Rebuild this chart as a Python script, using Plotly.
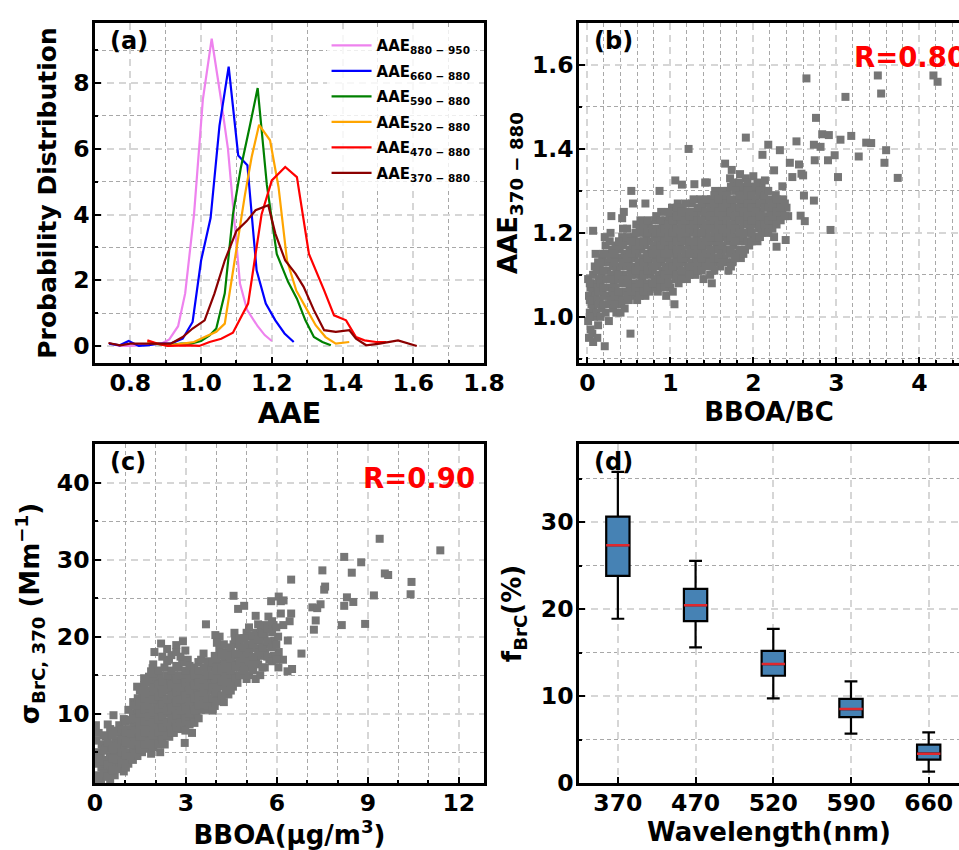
import plotly.graph_objects as go

# ---------------- Panel (a): AAE probability distributions ----------------
aae_labels = ["AAE<sub>880 − 950</sub>", "AAE<sub>660 − 880</sub>", "AAE<sub>590 − 880</sub>",
              "AAE<sub>520 − 880</sub>", "AAE<sub>470 − 880</sub>", "AAE<sub>370 − 880</sub>"]
aae_colors = ["violet", "blue", "green", "orange", "red", "darkred"]

pd880_x = [0.74, 0.77, 0.80, 0.83, 0.86, 0.89, 0.91, 0.935, 0.955, 0.98, 1.005, 1.03, 1.055, 1.076, 1.11, 1.13, 1.16, 1.18, 1.20]
pd880_y = [0.08, 0.0, 0.0, 0.02, 0.05, 0.08, 0.2, 0.6, 1.6, 4.0, 7.5, 9.35, 7.6, 6.0, 1.9, 1.1, 0.6, 0.33, 0.15]

pd660_x = [0.74, 0.77, 0.795, 0.824, 0.852, 0.88, 0.914, 0.948, 0.976, 1.0, 1.027, 1.052, 1.078, 1.105, 1.131, 1.157, 1.183, 1.21, 1.236, 1.262]
pd660_y = [0.07, 0.02, 0.15, 0.0, 0.02, 0.07, 0.07, 0.22, 0.73, 2.6, 3.9, 6.7, 8.5, 5.8, 5.5, 2.3, 1.29, 0.78, 0.38, 0.12]

pd590_x = [0.85, 0.876, 0.905, 0.943, 0.971, 1.0, 1.024, 1.043, 1.067, 1.09, 1.112, 1.138, 1.16, 1.186, 1.214, 1.246, 1.271, 1.295, 1.319, 1.343, 1.367]
pd590_y = [0.1, 0.07, 0.02, 0.07, 0.07, 0.15, 0.32, 0.53, 1.6, 4.0, 5.4, 6.7, 7.85, 4.9, 2.8, 1.95, 1.44, 0.78, 0.27, 0.12, 0.02]

pd520_x = [0.848, 0.876, 0.91, 0.948, 0.98, 1.01, 1.043, 1.067, 1.095, 1.124, 1.143, 1.164, 1.195, 1.219, 1.243, 1.269, 1.295, 1.324, 1.352, 1.381, 1.419]
pd520_y = [0.12, 0.07, 0.02, 0.07, 0.12, 0.27, 0.43, 0.68, 2.6, 4.6, 5.75, 6.73, 6.26, 4.84, 2.6, 1.69, 1.19, 0.63, 0.27, 0.07, 0.12]

pd470_x = [0.848, 0.876, 0.905, 0.943, 0.97, 0.995, 1.024, 1.057, 1.09, 1.133, 1.15, 1.171, 1.2, 1.238, 1.271, 1.305, 1.348, 1.376, 1.41, 1.438, 1.462, 1.495, 1.524]
pd470_y = [0.17, 0.07, 0.0, 0.02, 0.02, 0.0, 0.12, 0.22, 0.4, 1.29, 2.5, 4.0, 5.04, 5.45, 5.14, 2.8, 1.69, 0.93, 0.78, 0.27, 0.17, 0.12, 0.12]

pd370_x = [0.738, 0.771, 0.8, 0.838, 0.876, 0.914, 0.948, 0.976, 1.01, 1.038, 1.067, 1.1, 1.129, 1.154, 1.19, 1.21, 1.238, 1.267, 1.29, 1.319, 1.348, 1.381, 1.419, 1.438, 1.467, 1.505, 1.557, 1.61]
pd370_y = [0.09, 0.02, 0.07, 0.07, 0.07, 0.07, 0.27, 0.53, 0.78, 1.6, 2.6, 3.5, 3.8, 4.13, 4.28, 3.42, 2.6, 2.2, 1.8, 1.09, 0.48, 0.43, 0.48, 0.22, 0.02, 0.07, 0.17, 0.0]

# ---------------- Panel (b): AAE370-880 vs BBOA/BC ----------------
bb_ratio = [
    0.02, 0.04, 0.01, 0.03, 0.05, 0.02, 0.04, 0.01,
    0.07, 0.06, 0.08, 0.07, 0.09, 0.06, 0.08, 0.07, 0.09,
    0.12, 0.11, 0.13, 0.10, 0.12, 0.14, 0.11, 0.10, 0.07,
    0.16, 0.17, 0.15, 0.18, 0.16, 0.17, 0.15, 0.18,
    0.21, 0.21, 0.22, 0.20, 0.23, 0.21, 0.22,
    0.26, 0.25, 0.27, 0.24, 0.26, 0.25, 0.26, 0.27,
    0.31, 0.30, 0.32, 0.29, 0.31, 0.30, 0.29,
    0.35, 0.36, 0.34, 0.37, 0.35, 0.36, 0.34,
    0.40, 0.41, 0.39, 0.42, 0.40, 0.41, 0.39, 0.42, 0.42,
    0.45, 0.46, 0.44, 0.47, 0.45, 0.46, 0.44,
    0.50, 0.51, 0.49, 0.52, 0.50, 0.51, 0.48, 0.52, 0.53,
    0.55, 0.56, 0.54, 0.57, 0.55, 0.56, 0.55,
    0.60, 0.61, 0.59, 0.62, 0.60, 0.61, 0.59,
    0.65, 0.66, 0.64, 0.67, 0.65, 0.66, 0.64,
    0.70, 0.71, 0.69, 0.72, 0.70, 0.71, 0.69, 0.70,
    0.75, 0.76, 0.74, 0.77, 0.75, 0.76, 0.74,
    0.80, 0.81, 0.79, 0.82, 0.80, 0.81, 0.82,
    0.85, 0.86, 0.84, 0.87, 0.85, 0.86, 0.87,
    0.90, 0.91, 0.89, 0.92, 0.90, 0.91, 0.89,
    0.95, 0.96, 0.94, 0.97, 0.95, 0.96, 0.94,
    1.00, 1.01, 0.99, 1.02, 1.00, 1.01, 0.99, 1.02,
    1.05, 1.06, 1.04, 1.07, 1.05, 1.06, 1.04, 1.07, 1.06,
    1.10, 1.11, 1.09, 1.12, 1.10, 1.11, 1.09,
    1.15, 1.16, 1.14, 1.17, 1.15, 1.16, 1.14, 1.14,
    1.20, 1.21, 1.19, 1.22, 1.20, 1.21, 1.19, 1.22,
    1.25, 1.26, 1.24, 1.27, 1.25, 1.26,
    1.30, 1.31, 1.29, 1.32, 1.30, 1.31, 1.29,
    1.35, 1.36, 1.34, 1.37, 1.35, 1.36,
    1.40, 1.41, 1.39, 1.42, 1.40, 1.41, 1.39, 1.42,
    1.45, 1.46, 1.44, 1.47, 1.45, 1.44,
    1.50, 1.51, 1.49, 1.52, 1.50, 1.51, 1.49,
    1.55, 1.56, 1.54, 1.57, 1.55, 1.56, 1.54,
    1.60, 1.61, 1.59, 1.62, 1.60, 1.61, 1.59,
    1.65, 1.66, 1.64, 1.67, 1.65, 1.66, 1.66,
    1.70, 1.71, 1.69, 1.72, 1.70, 1.71, 1.69, 1.72,
    1.75, 1.76, 1.74, 1.77, 1.75, 1.76, 1.74,
    1.80, 1.81, 1.79, 1.82, 1.80, 1.81,
    1.85, 1.86, 1.84, 1.87, 1.85, 1.86, 1.84,
    1.90, 1.91, 1.89, 1.92, 1.90, 1.91, 1.91,
    1.95, 1.96, 1.94, 1.97, 1.95,
    2.00, 2.01, 1.99, 2.02, 2.00, 2.00,
    2.05, 2.06, 2.04, 2.07, 2.05,
    2.10, 2.11, 2.09, 2.12, 2.10, 2.11,
    2.15, 2.16, 2.14, 2.17, 2.14,
    2.20, 2.21, 2.19, 2.18,
    2.25, 2.26, 2.24, 2.27, 2.25,
    2.28, 2.30, 2.31, 2.32,
    2.35, 2.36, 2.35, 2.39,
    2.40, 2.42, 2.44, 2.47, 2.52, 2.55, 2.58, 2.60, 2.61, 2.57, 2.62, 2.64,
    2.73, 2.73, 2.74, 2.755, 2.81, 2.83, 2.90, 2.91, 2.93, 2.98, 3.02, 3.05,
    3.11, 3.18, 3.27, 3.36, 3.42, 3.50, 3.54, 3.58, 3.60, 3.74, 4.17, 4.22,
    # denser core
    0.03, 0.03, 0.03,
    0.13, 0.13, 0.13,
    0.19, 0.19, 0.19, 0.19,
    0.28, 0.28, 0.28, 0.28,
    0.33, 0.33, 0.33, 0.33,
    0.38, 0.38, 0.38,
    0.43, 0.43, 0.43, 0.43, 0.43,
    0.48, 0.48, 0.48, 0.48,
    0.53, 0.53, 0.53, 0.53,
    0.58, 0.58, 0.58, 0.58,
    0.63, 0.63, 0.63, 0.63, 0.63,
    0.68, 0.68, 0.68, 0.68, 0.68,
    0.73, 0.73, 0.73, 0.73, 0.73,
    0.78, 0.78, 0.78, 0.78,
    0.83, 0.83, 0.83, 0.83, 0.83,
    0.88, 0.88, 0.88, 0.88, 0.88, 0.88,
    0.93, 0.93, 0.93, 0.93, 0.93,
    0.98, 0.98, 0.98, 0.98, 0.98, 0.98,
    1.03, 1.03, 1.03, 1.03, 1.03,
    1.08, 1.08, 1.08, 1.08, 1.08, 1.08, 1.08,
    1.13, 1.13, 1.13, 1.13, 1.13, 1.13,
    1.18, 1.18, 1.18, 1.18, 1.18, 1.18,
    1.23, 1.23, 1.23, 1.23, 1.23, 1.23,
    1.28, 1.28, 1.28, 1.28, 1.28, 1.28,
    1.33, 1.33, 1.33, 1.33, 1.33, 1.33,
    1.38, 1.38, 1.38, 1.38, 1.38, 1.38,
    1.43, 1.43, 1.43, 1.43, 1.43, 1.43,
    1.48, 1.48, 1.48, 1.48, 1.48, 1.48, 1.48,
    1.53, 1.53, 1.53, 1.53, 1.53, 1.53, 1.53,
    1.58, 1.58, 1.58, 1.58, 1.58, 1.58,
    1.63, 1.63, 1.63, 1.63, 1.63, 1.63,
    1.68, 1.68, 1.68, 1.68, 1.68, 1.68,
    1.73, 1.73, 1.73, 1.73, 1.73, 1.73, 1.73,
    1.78, 1.78, 1.78, 1.78, 1.78, 1.78,
    1.83, 1.83, 1.83, 1.83, 1.83, 1.83,
    1.88, 1.88, 1.88, 1.88, 1.88, 1.88,
    1.93, 1.93, 1.93, 1.93, 1.93, 1.93,
    1.98, 1.98, 1.98, 1.98, 1.98,
    2.03, 2.03, 2.03, 2.03, 2.03,
    2.08, 2.08, 2.08, 2.08, 2.08,
    2.13, 2.13, 2.13,
    2.18, 2.18, 2.18, 2.18,
    2.23, 2.23, 2.23,
    2.28, 2.28, 2.28,
    2.33, 2.33,
    2.38, 2.38,
]
bb_aae = [
    0.95, 0.97, 0.99, 1.01, 1.03, 1.05, 1.07, 1.09,
    0.94, 0.96, 1.00, 1.02, 1.04, 1.06, 1.08, 1.10, 1.12,
    0.95, 1.01, 1.03, 1.05, 1.07, 1.09, 1.11, 1.15, 1.205,
    1.00, 1.02, 1.04, 1.06, 1.08, 1.10, 1.12, 1.14,
    1.19, 0.93, 1.01, 1.05, 1.09, 1.13, 1.17,
    1.03, 1.05, 1.07, 1.11, 1.13, 1.15, 0.99, 1.18,
    1.02, 1.06, 1.08, 1.10, 1.12, 1.16, 1.24,
    1.01, 1.04, 1.07, 1.09, 1.11, 1.14, 1.17,
    1.01, 1.03, 1.05, 1.08, 1.12, 1.14, 1.16, 1.19, 1.235,
    1.02, 1.06, 1.10, 1.12, 1.15, 1.18, 1.25,
    1.04, 1.07, 1.09, 1.11, 1.13, 1.16, 1.21, 0.96, 1.30,
    1.05, 1.08, 1.12, 1.14, 1.17, 1.19, 1.27,
    1.04, 1.06, 1.10, 1.13, 1.15, 1.18, 1.22,
    1.07, 1.09, 1.11, 1.14, 1.16, 1.20, 1.23,
    1.05, 1.08, 1.12, 1.15, 1.17, 1.19, 1.21, 1.27,
    1.06, 1.10, 1.13, 1.16, 1.18, 1.20, 1.22,
    1.07, 1.09, 1.11, 1.14, 1.17, 1.19, 1.23,
    1.06, 1.10, 1.12, 1.15, 1.18, 1.21, 1.30,
    1.08, 1.11, 1.13, 1.16, 1.19, 1.22, 1.25,
    1.05, 1.09, 1.12, 1.14, 1.17, 1.20, 1.23,
    1.07, 1.10, 1.13, 1.15, 1.18, 1.21, 1.24, 1.26,
    1.03, 1.09, 1.11, 1.14, 1.16, 1.19, 1.22, 1.25, 1.325,
    1.08, 1.12, 1.15, 1.17, 1.20, 1.23, 1.27,
    1.10, 1.13, 1.16, 1.18, 1.21, 1.24, 1.26, 1.315,
    1.09, 1.12, 1.14, 1.17, 1.19, 1.22, 1.25, 1.40,
    1.11, 1.13, 1.16, 1.20, 1.23, 1.27,
    1.10, 1.14, 1.17, 1.19, 1.21, 1.24, 1.316,
    1.12, 1.15, 1.18, 1.22, 1.25, 1.28,
    1.09, 1.13, 1.16, 1.19, 1.21, 1.24, 1.26, 1.32,
    1.14, 1.17, 1.20, 1.23, 1.27, 1.32,
    1.08, 1.12, 1.15, 1.18, 1.22, 1.25, 1.28,
    1.13, 1.17, 1.19, 1.21, 1.24, 1.26, 1.30,
    1.12, 1.15, 1.18, 1.20, 1.23, 1.27, 1.29,
    1.14, 1.16, 1.19, 1.22, 1.25, 1.28, 1.365,
    1.11, 1.15, 1.18, 1.21, 1.24, 1.26, 1.30, 1.33,
    1.13, 1.17, 1.20, 1.23, 1.27, 1.32, 1.35,
    1.15, 1.19, 1.22, 1.25, 1.28, 1.31,
    1.14, 1.18, 1.21, 1.24, 1.27, 1.30, 1.34,
    1.16, 1.20, 1.23, 1.26, 1.29, 1.33, 1.427,
    1.17, 1.21, 1.25, 1.28, 1.31,
    1.19, 1.22, 1.24, 1.27, 1.30, 1.335,
    1.18, 1.21, 1.26, 1.29, 1.32,
    1.20, 1.23, 1.25, 1.28, 1.31, 1.386,
    1.21, 1.24, 1.27, 1.30, 1.325,
    1.22, 1.25, 1.28, 1.41,
    1.19, 1.23, 1.26, 1.29, 1.349,
    1.167, 1.24, 1.27, 1.397,
    1.25, 1.28, 1.311, 1.183,
    1.26, 1.24, 1.367, 1.333, 1.418, 1.363, 1.341, 1.337, 1.289, 1.241, 1.228, 1.568,
    1.277, 1.41, 1.373, 1.474, 1.405, 1.435, 1.373, 1.433, 1.207, 1.385, 1.333, 1.422,
    1.524, 1.431, 1.382, 1.415, 1.414, 1.575, 1.532, 1.367, 1.397, 1.331, 1.575, 1.56,
    # denser core
    1.00, 1.04, 1.08,
    0.98, 1.06, 1.13,
    1.03, 1.07, 1.11, 1.15,
    1.04, 1.09, 1.14, 1.20,
    1.03, 1.05, 1.13, 1.15,
    1.06, 1.10, 1.18,
    1.04, 1.09, 1.13, 1.17, 1.21,
    1.05, 1.08, 1.14, 1.19,
    1.06, 1.10, 1.15, 1.18,
    1.07, 1.11, 1.16, 1.20,
    1.05, 1.08, 1.12, 1.17, 1.21,
    1.06, 1.10, 1.13, 1.18, 1.22,
    1.07, 1.11, 1.14, 1.20, 1.23,
    1.08, 1.12, 1.15, 1.21,
    1.08, 1.13, 1.16, 1.20, 1.24,
    1.07, 1.09, 1.14, 1.17, 1.20, 1.23,
    1.07, 1.10, 1.15, 1.18, 1.21,
    1.08, 1.11, 1.16, 1.19, 1.22, 1.25,
    1.06, 1.12, 1.17, 1.20, 1.23,
    1.10, 1.13, 1.16, 1.18, 1.21, 1.24, 1.26,
    1.09, 1.11, 1.14, 1.19, 1.22, 1.25,
    1.11, 1.15, 1.18, 1.20, 1.23, 1.27,
    1.10, 1.12, 1.15, 1.18, 1.21, 1.24,
    1.12, 1.15, 1.18, 1.22, 1.25, 1.28,
    1.11, 1.13, 1.16, 1.20, 1.23, 1.26,
    1.11, 1.14, 1.17, 1.20, 1.23, 1.27,
    1.12, 1.15, 1.18, 1.22, 1.25, 1.28,
    1.10, 1.13, 1.16, 1.19, 1.21, 1.24, 1.26,
    1.11, 1.14, 1.16, 1.20, 1.23, 1.27, 1.29,
    1.14, 1.16, 1.19, 1.22, 1.25, 1.28,
    1.13, 1.17, 1.21, 1.24, 1.26, 1.30,
    1.13, 1.16, 1.20, 1.23, 1.27, 1.29,
    1.12, 1.16, 1.19, 1.22, 1.25, 1.28, 1.31,
    1.14, 1.18, 1.21, 1.24, 1.26, 1.30,
    1.16, 1.20, 1.23, 1.26, 1.29, 1.32,
    1.15, 1.19, 1.22, 1.25, 1.28, 1.31,
    1.18, 1.22, 1.24, 1.27, 1.30, 1.32,
    1.18, 1.20, 1.23, 1.26, 1.29,
    1.19, 1.23, 1.25, 1.28, 1.31,
    1.19, 1.22, 1.24, 1.27, 1.30,
    1.22, 1.26, 1.29,
    1.20, 1.23, 1.26, 1.30,
    1.21, 1.24, 1.27,
    1.22, 1.25, 1.28,
    1.23, 1.26,
    1.24, 1.27,
]

# ---------------- Panel (c): sigma_BrC,370 vs BBOA ----------------
bboa_conc = [
    0.05, 0.04, 0.06, 0.05, 0.03,
    0.20, 0.21, 0.19, 0.22,
    0.35, 0.34, 0.36, 0.35,
    0.50, 0.51, 0.49, 0.52, 0.50,
    0.65, 0.66, 0.64, 0.67, 0.61,
    0.80, 0.81, 0.79, 0.82, 0.80,
    0.95, 0.96, 0.94, 0.97, 0.95,
    1.10, 1.11, 1.09, 1.12, 1.10,
    1.25, 1.26, 1.24, 1.27, 1.25, 1.26,
    1.40, 1.41, 1.39, 1.42, 1.40, 1.41, 1.39,
    1.55, 1.56, 1.54, 1.57, 1.55, 1.56, 1.62,
    1.70, 1.71, 1.69, 1.72, 1.70, 1.71, 1.90,
    1.85, 1.86, 1.84, 1.87, 1.85, 1.86, 1.84, 1.85,
    2.00, 2.01, 1.99, 2.02, 2.00, 2.01, 1.96,
    2.15, 2.16, 2.14, 2.17, 2.15, 2.16, 2.14, 2.18,
    2.30, 2.31, 2.29, 2.32, 2.30, 2.31, 2.29, 2.38,
    2.45, 2.46, 2.44, 2.47, 2.45, 2.46, 2.44,
    2.60, 2.61, 2.59, 2.62, 2.60, 2.61, 2.68,
    2.75, 2.76, 2.74, 2.77, 2.75, 2.76, 2.88,
    2.96, 2.91, 2.89, 2.92, 2.90, 2.91, 2.89, 2.90,
    3.05, 3.06, 3.04, 3.07, 3.05, 3.06,
    3.20, 3.21, 3.19, 3.22, 3.20, 3.21,
    3.35, 3.36, 3.34, 3.37, 3.41,
    3.50, 3.51, 3.49, 3.52, 3.50,
    3.65, 3.66, 3.64, 3.67, 3.66,
    3.80, 3.81, 3.79, 3.82,
    3.95, 3.96, 3.94, 3.97, 3.95, 3.97,
    4.10, 4.11, 4.09, 4.12, 4.10, 4.11,
    4.25, 4.26, 4.24, 4.27, 4.25,
    4.40, 4.41, 4.39, 4.42,
    4.55, 4.56, 4.54, 4.57, 4.60, 4.57,
    4.70, 4.71, 4.69, 4.72, 4.72,
    4.85, 4.86, 4.84, 4.92,
    5.00, 5.01, 4.99, 5.02, 5.00,
    5.15, 5.16, 5.14, 5.16,
    5.30, 5.31, 5.29, 5.32, 5.30,
    5.45, 5.46, 5.44, 5.47,
    5.60, 5.61, 5.59, 5.62,
    5.75, 5.76, 5.74, 5.72, 5.81,
    5.90, 5.91, 5.89,
    6.05, 6.06, 6.04, 6.13, 6.06,
    6.20, 6.21, 6.13, 6.22,
    6.35, 6.36, 6.42,
    6.50, 6.47, 6.47,
    6.81, 7.17, 7.22, 7.28, 7.33, 7.44, 7.50, 7.56, 7.59, 8.14, 8.22, 8.22,
    8.31, 8.47, 8.52, 8.78, 8.91, 9.20, 9.39, 9.56, 9.67, 10.41, 10.44, 11.39,
    # denser core
    0.12, 0.12, 0.12,
    0.28, 0.28, 0.28, 0.28,
    0.42, 0.42, 0.42, 0.42,
    0.58, 0.58, 0.58, 0.58,
    0.72, 0.72, 0.72, 0.72,
    0.88, 0.88, 0.88, 0.88,
    1.02, 1.02, 1.02, 1.02, 1.02,
    1.18, 1.18, 1.18, 1.18,
    1.32, 1.32, 1.32, 1.32, 1.32,
    1.48, 1.48, 1.48, 1.48, 1.48, 1.48,
    1.62, 1.62, 1.62, 1.62, 1.62, 1.62,
    1.78, 1.78, 1.78, 1.78, 1.78, 1.78,
    1.92, 1.92, 1.92, 1.92, 1.92, 1.92, 1.92, 1.92,
    2.08, 2.08, 2.08, 2.08, 2.08, 2.08, 2.08,
    2.22, 2.22, 2.22, 2.22, 2.22, 2.22, 2.22,
    2.38, 2.38, 2.38, 2.38, 2.38, 2.38, 2.38,
    2.52, 2.52, 2.52, 2.52, 2.52, 2.52, 2.52,
    2.68, 2.68, 2.68, 2.68, 2.68, 2.68, 2.68,
    2.82, 2.82, 2.82, 2.82, 2.82, 2.82,
    2.98, 2.98, 2.98, 2.98, 2.98, 2.98, 2.98,
    3.12, 3.12, 3.12, 3.12, 3.12, 3.12,
    3.28, 3.28, 3.28, 3.28, 3.28, 3.28,
    3.42, 3.42, 3.42, 3.42, 3.42,
    3.58, 3.58, 3.58, 3.58, 3.58,
    3.72, 3.72, 3.72, 3.72, 3.72,
    3.88, 3.88, 3.88, 3.88, 3.88,
    4.02, 4.02, 4.02, 4.02, 4.02, 4.02,
    4.18, 4.18, 4.18, 4.18, 4.18,
    4.32, 4.32, 4.32, 4.32,
    4.48, 4.48, 4.48, 4.48, 4.48,
    4.62, 4.62, 4.62, 4.62,
    4.78, 4.78, 4.78, 4.78,
    4.92, 4.92, 4.92, 4.92,
    5.08, 5.08, 5.08, 5.08,
    5.22, 5.22, 5.22, 5.22,
    5.38, 5.38, 5.38, 5.38,
    5.52, 5.52, 5.52,
    5.68, 5.68, 5.68,
    5.84, 5.84, 5.84, 5.84,
    5.98, 5.98, 5.98,
]
sigma_brc = [
    2.0, 3.5, 5.0, 6.5, 8.5,
    1.5, 3.0, 4.5, 6.0,
    2.5, 4.0, 5.5, 7.0,
    1.2, 3.0, 4.5, 6.0, 8.0,
    2.0, 3.5, 5.0, 6.5, 9.8,
    3.0, 4.5, 6.0, 7.5, 8.5,
    2.5, 4.0, 5.5, 7.0, 9.3,
    3.5, 5.0, 6.5, 8.0, 10.5,
    4.0, 5.5, 7.0, 8.5, 10.0, 11.5,
    4.5, 6.0, 7.5, 9.0, 10.5, 12.0, 13.5,
    5.0, 6.5, 8.0, 9.5, 11.0, 12.5, 13.7,
    5.5, 7.0, 8.5, 10.0, 11.5, 13.0, 15.9,
    4.8, 6.0, 7.5, 9.0, 10.5, 12.0, 14.0, 15.5,
    6.5, 8.0, 9.5, 11.0, 12.5, 14.5, 18.0,
    5.0, 7.0, 8.5, 10.0, 11.5, 13.0, 15.0, 19.1,
    6.0, 7.5, 9.0, 10.5, 12.0, 13.5, 16.0, 18.4,
    7.0, 8.5, 10.0, 11.5, 13.0, 14.5, 17.0,
    7.5, 9.0, 10.5, 12.0, 13.5, 15.0, 18.9,
    8.0, 9.5, 11.0, 12.5, 14.0, 16.0, 16.7,
    6.2, 8.5, 10.0, 11.5, 13.0, 14.5, 16.7, 19.4,
    9.0, 10.5, 12.0, 13.5, 15.0, 17.0,
    7.5, 9.5, 11.0, 12.5, 14.0, 15.5,
    10.0, 11.5, 13.0, 14.5, 16.7,
    10.5, 12.0, 13.5, 15.0, 17.0,
    10.5, 12.5, 14.0, 15.5, 21.6,
    11.5, 13.0, 14.5, 16.0,
    11.0, 12.5, 14.0, 15.5, 17.5, 20.2,
    12.0, 13.5, 15.0, 16.5, 18.5, 20.0,
    11.5, 14.0, 15.5, 17.0, 19.0,
    12.5, 14.5, 16.0, 18.0,
    13.5, 15.0, 16.5, 19.0, 20.5, 25.3,
    14.0, 16.0, 17.5, 19.5, 23.6,
    15.0, 16.5, 18.0, 24.0,
    14.5, 16.0, 17.5, 19.0, 20.5,
    16.5, 18.5, 20.0, 16.0,
    14.5, 17.0, 18.5, 20.5, 22.7,
    15.0, 17.5, 19.5, 21.0,
    16.0, 18.0, 20.0, 21.5,
    17.0, 19.0, 21.0, 22.6, 24.6,
    17.5, 19.5, 21.5,
    16.0, 18.0, 20.0, 24.6, 25.2,
    17.0, 21.5, 23.0, 24.7,
    15.5, 19.5, 22.0,
    15.8, 23.0, 27.4,
    17.8, 23.8, 20.9, 22.1, 23.7, 24.2, 28.6, 26.1, 26.5, 21.5, 30.35, 24.0,
    25.1, 28.3, 24.5, 29.65, 21.65, 25.35, 32.7, 28.2, 28.0, 25.5, 27.1, 31.2,
    # denser core
    1.5, 4.2, 7.5,
    2.2, 3.8, 5.2, 7.2,
    1.8, 3.4, 6.2, 8.6,
    2.6, 4.2, 5.4, 7.2,
    2.8, 4.0, 5.8, 7.8,
    3.6, 5.0, 6.6, 8.0,
    3.0, 4.6, 6.2, 7.6, 9.0,
    4.4, 6.0, 7.4, 9.2,
    4.8, 6.4, 7.8, 9.4, 11.0,
    5.4, 7.0, 8.4, 10.0, 11.6, 13.0,
    6.0, 7.6, 9.0, 10.6, 12.0, 14.6,
    6.4, 8.0, 9.6, 11.0, 12.6, 14.8,
    5.6, 7.2, 8.8, 10.2, 11.8, 13.4, 15.2, 16.4,
    6.0, 7.6, 9.2, 10.6, 12.2, 13.8, 15.6,
    6.6, 8.2, 9.6, 11.2, 12.6, 14.2, 17.4,
    7.2, 8.8, 10.4, 11.8, 13.2, 15.0, 16.8,
    7.6, 9.4, 10.8, 12.4, 13.8, 15.6, 17.6,
    8.2, 9.8, 11.4, 12.8, 14.4, 16.2, 18.0,
    8.8, 10.4, 11.8, 13.4, 15.0, 17.4,
    7.8, 9.4, 10.8, 12.4, 14.0, 15.6, 18.2,
    8.6, 10.0, 11.6, 13.0, 14.6, 16.2,
    8.8, 10.4, 12.0, 13.6, 15.0, 16.0,
    9.4, 11.0, 12.4, 14.0, 15.6,
    11.2, 12.8, 14.4, 16.0, 17.8,
    11.0, 12.0, 13.6, 15.0, 16.8,
    10.4, 12.0, 13.4, 15.0, 16.6,
    11.6, 12.8, 14.6, 16.0, 17.2, 19.2,
    12.4, 14.2, 15.8, 17.6, 18.0,
    13.2, 14.8, 16.4, 17.8,
    13.0, 14.0, 15.6, 17.2, 18.6,
    14.6, 16.2, 17.8, 19.6,
    15.0, 16.8, 18.8, 19.8,
    15.6, 17.2, 18.6, 19.8,
    15.0, 16.8, 18.0, 21.2,
    15.6, 17.4, 19.2, 20.2,
    16.4, 18.0, 19.6, 21.6,
    16.0, 18.6, 20.4,
    17.4, 19.4, 21.0,
    16.8, 18.6, 20.6, 22.0,
    17.0, 19.0, 21.2,
]

# ---------------- Panel (d): f_BrC box statistics ----------------
wavelengths = ["370", "470", "520", "590", "660"]
wl_pos = [1, 2, 3, 4, 5]
fbrc_low = [18.9, 15.6, 9.73, 5.67, 1.3]
fbrc_q1 = [23.83, 18.62, 12.34, 7.59, 2.68]
fbrc_med = [27.36, 20.46, 13.68, 8.5, 3.37]
fbrc_q3 = [30.65, 22.34, 15.2, 9.69, 4.41]
fbrc_high = [35.8, 25.56, 17.74, 11.69, 5.82]

# ---------------- Figure ----------------
FONT = "DejaVu Sans"
fig = go.Figure()

pd_x = [pd880_x, pd660_x, pd590_x, pd520_x, pd470_x, pd370_x]
pd_y = [pd880_y, pd660_y, pd590_y, pd520_y, pd470_y, pd370_y]
for i, (xs, ys, name, col) in enumerate(zip(pd_x, pd_y, aae_labels, aae_colors)):
    fig.add_trace(go.Scatter(x=xs, y=ys, mode="lines", name=name, legendgroup=f"g{i}",
                             line=dict(color=col, width=2.2),
                             xaxis="x", yaxis="y", showlegend=True))

fig.add_trace(go.Scatter(x=bb_ratio, y=bb_aae, mode="markers", showlegend=False,
                         marker=dict(symbol="square", size=8, color="#767676"),
                         xaxis="x2", yaxis="y2"))
fig.add_trace(go.Scatter(x=bboa_conc, y=sigma_brc, mode="markers", showlegend=False,
                         marker=dict(symbol="square", size=8, color="#767676"),
                         xaxis="x3", yaxis="y3"))

fig.add_trace(go.Box(x=wl_pos, q1=fbrc_q1, median=fbrc_med, q3=fbrc_q3,
                     lowerfence=fbrc_low, upperfence=fbrc_high,
                     width=0.3, whiskerwidth=0.55, fillcolor="#4682B4",
                     line=dict(color="black", width=2.2), showlegend=False,
                     boxpoints=False, xaxis="x4", yaxis="y4"))
fig.add_trace(go.Box(x=wl_pos, q1=fbrc_med, median=fbrc_med, q3=fbrc_med,
                     lowerfence=fbrc_med, upperfence=fbrc_med,
                     width=0.3, whiskerwidth=0, fillcolor="rgba(0,0,0,0)",
                     line=dict(color="#e0282e", width=2.5), showlegend=False,
                     boxpoints=False, hoverinfo="skip", xaxis="x4", yaxis="y4"))


def axis_style(rng, dtick, minor_dtick, domain, anchor, title, mirror=True, tick0=None,
               tickvals=None, ticktext=None, standoff=6, tickformat=None, title_size=26,
               labelshift=0):
    ax = dict(
        range=rng, domain=domain, anchor=anchor, automargin=False,
        showline=True, linecolor="black", linewidth=2.5, mirror=mirror,
        ticks="inside", ticklen=6, tickwidth=2, tickcolor="black",
        tickfont=dict(family=FONT, size=23.5, color="black", weight="bold"),
        ticklabelstandoff=labelshift,
        showgrid=True, gridcolor="#d6d6d6", gridwidth=1.6, griddash="7px,5px",
        zeroline=False,
        title=dict(text=title, font=dict(family=FONT, size=title_size, color="black", weight="bold"),
                   standoff=standoff),
    )
    if tickvals is not None:
        ax.update(tickmode="array", tickvals=tickvals, ticktext=ticktext)
    else:
        ax.update(dtick=dtick)
        if tick0 is not None:
            ax.update(tick0=tick0)
    if tickformat is not None:
        ax.update(tickformat=tickformat)
    if minor_dtick is not None:
        ax["minor"] = dict(dtick=minor_dtick, showgrid=True, gridcolor="#a8a8a8",
                           gridwidth=0.8, griddash="4px,3px", ticks="inside",
                           ticklen=3.5, tickwidth=1.5, tickcolor="black")
    return ax


dom_left = [0.0, 0.4502]
dom_right = [0.5602, 1.0]
dom_top = [0.5526, 1.0]
dom_bot = [0.0, 0.446]

fig.update_layout(
    width=959, height=850,
    margin=dict(l=95, r=0, t=23, b=67, autoexpand=False),
    paper_bgcolor="white", plot_bgcolor="white",
    font=dict(family=FONT, size=18, color="black", weight="bold"),
    xaxis=axis_style([0.7, 1.8], 0.2, 0.1, dom_left, "y", "AAE", tick0=0.8, tickformat=".1f",
                     title_size=28.5, labelshift=-3, standoff=0),
    yaxis=axis_style([-0.52, 9.83], 2, 1, dom_top, "x", "Probability Distribution",
                     title_size=25, labelshift=-2, standoff=10),
    xaxis2=axis_style([-0.1, 4.478], 1, 0.2, dom_right, "y2", "BBOA/BC", labelshift=-3, standoff=0),
    yaxis2=axis_style([0.89, 1.70], 0.2, 0.1, dom_top, "x2", "AAE<sub>370 − 880</sub>",
                      mirror=False, tick0=1.0, tickformat=".1f", labelshift=-2, standoff=7),
    xaxis3=axis_style([0, 12.83], 3, 1, dom_left, "y3", "BBOA(μg/m<sup>3</sup>)", labelshift=-3,
                      standoff=0),
    yaxis3=axis_style([1.0, 45.0], 10, 5, dom_bot, "x3", "σ<sub>BrC, 370</sub> (Mm<sup>−1</sup>)",
                      tick0=0, labelshift=-2, standoff=10),
    xaxis4=axis_style([0.5, 5.39], None, None, dom_right, "y4", "Wavelength(nm)",
                      tickvals=wl_pos, ticktext=wavelengths, labelshift=-3, standoff=0),
    yaxis4=axis_style([0, 39], 10, 5, dom_bot, "x4", "f<sub>BrC</sub>(%)", mirror=False, tick0=0,
                      labelshift=-2, standoff=12),
    legend=dict(x=0.268, y=0.992, xanchor="left", yanchor="top",
                bgcolor="rgba(255,255,255,0.8)", borderwidth=0,
                font=dict(family=FONT, size=15, color="black", weight="bold"),
                itemwidth=40, tracegroupgap=3),
    showlegend=True,
)

ann_font = dict(family=FONT, size=24, color="black", weight="bold")
r_font = dict(family=FONT, size=27.5, color="red", weight="bold")
fig.add_annotation(text="(a)", xref="x domain", yref="y domain", x=0.033, y=0.947,
                   xanchor="left", yanchor="middle", showarrow=False, font=ann_font)
fig.add_annotation(text="(b)", xref="x2 domain", yref="y2 domain", x=0.034, y=0.947,
                   xanchor="left", yanchor="middle", showarrow=False, font=ann_font)
fig.add_annotation(text="(c)", xref="x3 domain", yref="y3 domain", x=0.033, y=0.947,
                   xanchor="left", yanchor="middle", showarrow=False, font=ann_font)
fig.add_annotation(text="(d)", xref="x4 domain", yref="y4 domain", x=0.034, y=0.947,
                   xanchor="left", yanchor="middle", showarrow=False, font=ann_font)
fig.add_annotation(text="R=0.80", xref="x2 domain", yref="y2 domain", x=0.718, y=0.9,
                   xanchor="left", yanchor="middle", showarrow=False, font=r_font)
fig.add_annotation(text="R=0.90", xref="x3 domain", yref="y3 domain", x=0.982, y=0.9,
                   xanchor="right", yanchor="middle", showarrow=False, font=r_font)

# remove the browser's default 8px page margin so the 959x850 figure fills the window exactly
fig.write_html("out.html", config={"displayModeBar": False},
               post_script="document.body.style.margin='0px';")
